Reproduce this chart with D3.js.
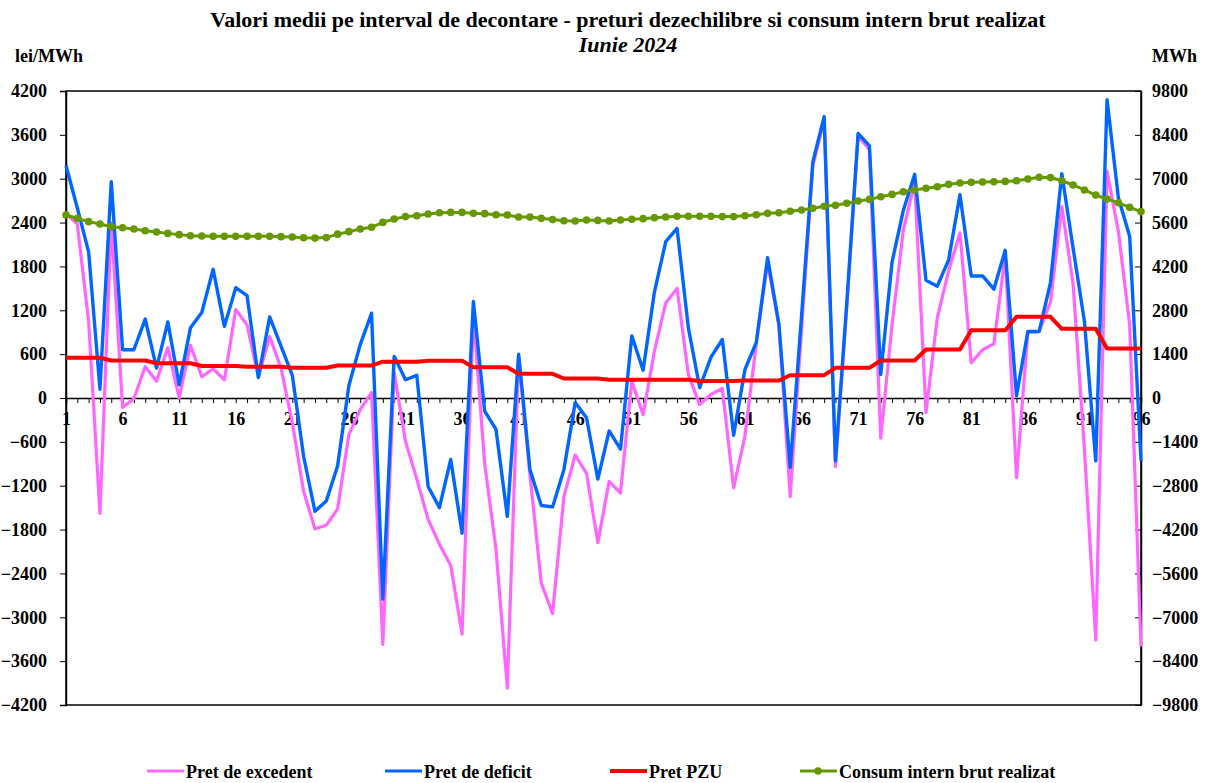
<!DOCTYPE html>
<html>
<head>
<meta charset="utf-8">
<script src="https://cdn.jsdelivr.net/npm/d3@7"></script>
<style>
    body { margin: 0; background: #fff; }
    svg text { font-family: "Liberation Serif", "Times New Roman", serif; font-weight: bold; fill: #000; }
</style>
</head>
<body>
<div class="svg-container"></div>
<script>
// intervale de decontare 1..96
const intervals = d3.range(1, 97);
const xTickLabels = [1, 6, 11, 16, 21, 26, 31, 36, 41, 46, 51, 56, 61, 66, 71, 76, 81, 86, 91, 96];
const leftTicks = [-4200, -3600, -3000, -2400, -1800, -1200, -600, 0, 600, 1200, 1800, 2400, 3000, 3600, 4200];
const rightTicks = [-9800, -8400, -7000, -5600, -4200, -2800, -1400, 0, 1400, 2800, 4200, 5600, 7000, 8400, 9800];

const pretExcedent = [
    2520, 2380, 1050, -1580, 2400, -130, -10, 430, 230, 690, 0, 720,
    290, 400, 250, 1210, 1000, 290, 840, 410, -340, -1280, -1790, -1740,
    -1520, -500, -160, 75, -3370, 350, -590, -1110, -1660, -2000, -2290, -3230,
    1150, -900, -2070, -3970, 560, -1050, -2530, -2950, -1350, -780, -1030, -1980,
    -1140, -1300, 230, -230, 640, 1300, 1500, 320, -90, 50, 130, -1230,
    -520, 740, 1850, 1000, -1350, 940, 3180, 3800, -940, 1250, 3580, 3400,
    -550, 1000, 2300, 2950, -200, 1100, 1740, 2260, 480, 660, 740, 1950,
    -1090, 900, 910, 1310, 2620, 1560, -700, -3310, 3100, 2280, 1000, -3400
];

const pretDeficit = [
    3180, 2600, 2000, 120, 2960, 660, 660, 1080, 410, 1040, 180, 960,
    1170, 1760, 980, 1510, 1400, 280, 1110, 710, 310, -800, -1550, -1410,
    -930, 170, 730, 1160, -2750, 570, 250, 310, -1210, -1500, -840, -1850,
    1320, -180, -430, -1620, 600, -980, -1470, -1490, -980, -60, -270, -1110,
    -450, -700, 850, 380, 1450, 2140, 2320, 960, 140, 560, 800, -510,
    390, 760, 1920, 1010, -950, 1120, 3230, 3850, -860, 1300, 3620, 3450,
    320, 1860, 2570, 3060, 1610, 1530, 1890, 2780, 1670, 1670, 1490, 2020,
    30, 910, 910, 1580, 3070, 2050, 1050, -860, 4080, 2740, 2210, -860
];

const pretPZU = [
    550, 550, 550, 550, 513, 513, 513, 513, 476, 476, 476, 476,
    437, 437, 437, 437, 428, 428, 428, 428, 413, 413, 413, 413,
    444, 444, 444, 444, 497, 497, 497, 497, 510, 510, 510, 510,
    422, 422, 422, 422, 331, 331, 331, 331, 267, 267, 267, 267,
    250, 250, 250, 250, 250, 250, 250, 250, 232, 232, 232, 232,
    240, 240, 240, 240, 312, 312, 312, 312, 413, 413, 413, 413,
    513, 513, 513, 513, 663, 663, 663, 663, 928, 928, 928, 928,
    1111, 1111, 1111, 1111, 946, 946, 946, 946, 677, 677, 677, 677
];

const consumIntern = [
    5840, 5735, 5630, 5555, 5470, 5435, 5395, 5340, 5300, 5255, 5215, 5180,
    5170, 5160, 5160, 5160, 5160, 5160, 5160, 5150, 5140, 5115, 5105, 5120,
    5230, 5310, 5395, 5450, 5605, 5715, 5790, 5820, 5875, 5915, 5925, 5925,
    5895, 5885, 5850, 5840, 5780, 5775, 5735, 5695, 5660, 5650, 5680, 5670,
    5650, 5680, 5705, 5725, 5755, 5780, 5800, 5800, 5800, 5800, 5790, 5790,
    5820, 5850, 5895, 5915, 5960, 6000, 6055, 6120, 6150, 6215, 6290, 6340,
    6425, 6500, 6585, 6640, 6695, 6745, 6820, 6865, 6885, 6895, 6905, 6915,
    6935, 6990, 7045, 7035, 6935, 6800, 6640, 6480, 6350, 6235, 6085, 5950
];

const seriesNames = ["Pret de excedent", "Pret de deficit", "Pret PZU", "Consum intern brut realizat"];
const seriesColors = ["#ff66ff", "#0066ff", "#ff0000", "#669900"];

const width = 1209;
const height = 783;
const plot = { left: 66, right: 1141, top: 91, bottom: 705 };
const labelFont = '18px';

let svg = d3.select('.svg-container').append('svg')
    .attr('width', width)
    .attr('height', height);

/**
 *  Scales
 */
const xScale = d3.scaleLinear().domain([1, 96]).range([plot.left, plot.right]);
const yLeft = d3.scaleLinear().domain([-4200, 4200]).range([plot.bottom, plot.top]);
const yRight = d3.scaleLinear().domain([-9800, 9800]).range([plot.bottom, plot.top]);

/**
 *  Titles
 */
svg.append('text')
    .attr('x', 628).attr('y', 27)
    .attr('text-anchor', 'middle')
    .style('font-size', '22px')
    .text('Valori medii pe interval de decontare - preturi dezechilibre si consum intern brut realizat');

svg.append('text')
    .attr('x', 628).attr('y', 52)
    .attr('text-anchor', 'middle')
    .style('font-size', '22px')
    .style('font-style', 'italic')
    .text('Iunie 2024');

svg.append('text').attr('x', 15).attr('y', 62).style('font-size', labelFont).text('lei/MWh');
svg.append('text').attr('x', 1152).attr('y', 62).style('font-size', labelFont).text('MWh');

/**
 *  Plot frame
 */
svg.append('rect')
    .attr('x', plot.left).attr('y', plot.top)
    .attr('width', plot.right - plot.left).attr('height', plot.bottom - plot.top)
    .attr('fill', 'none').attr('stroke', '#000').attr('stroke-width', 1.5);

/**
 *  Left axis
 */
const leftAxis = svg.append('g')
    .attr('transform', `translate(${plot.left}, 0)`)
    .call(d3.axisLeft(yLeft).tickValues(leftTicks).tickSize(6).tickPadding(13).tickFormat(d3.format('d')));
leftAxis.select('.domain').attr('stroke-width', 1.5);
leftAxis.selectAll('text').style('font-size', labelFont).style('font-family', '"Liberation Serif", serif');

/**
 *  Right axis (ticks inward)
 */
const rightAxis = svg.append('g')
    .attr('transform', `translate(${plot.right}, 0)`)
    .call(d3.axisRight(yRight).tickValues(rightTicks).tickSize(0).tickPadding(11).tickFormat(d3.format('d')));
rightAxis.select('.domain').attr('stroke-width', 1.5);
rightAxis.selectAll('text').style('font-size', labelFont).style('font-family', '"Liberation Serif", serif');
rightAxis.selectAll('.tick').append('line')
    .attr('x1', -6).attr('x2', 0).attr('stroke', '#000');

/**
 *  X axis at zero
 */
const xAxis = svg.append('g')
    .attr('transform', `translate(0, ${yLeft(0)})`)
    .call(d3.axisBottom(xScale).tickValues(intervals).tickSize(5)
        .tickFormat((d) => xTickLabels.includes(d) ? d : ''));
xAxis.select('.domain').attr('stroke-width', 1.5);
xAxis.selectAll('text')
    .attr('y', 14)
    .style('font-size', labelFont)
    .style('font-family', '"Liberation Serif", serif');

/**
 *  Lines
 */
const lineLeft = d3.line().x((d, i) => xScale(intervals[i])).y((d) => yLeft(d));
const lineRight = d3.line().x((d, i) => xScale(intervals[i])).y((d) => yRight(d));

svg.append('path').datum(pretExcedent)
    .attr('d', lineLeft).attr('fill', 'none')
    .attr('stroke', seriesColors[0]).attr('stroke-width', 3.2).attr('stroke-linejoin', 'round');

svg.append('path').datum(pretDeficit)
    .attr('d', lineLeft).attr('fill', 'none')
    .attr('stroke', seriesColors[1]).attr('stroke-width', 3.4).attr('stroke-linejoin', 'round');

svg.append('path').datum(pretPZU)
    .attr('d', lineLeft).attr('fill', 'none')
    .attr('stroke', seriesColors[2]).attr('stroke-width', 4).attr('stroke-linejoin', 'round');

svg.append('path').datum(consumIntern)
    .attr('d', lineRight).attr('fill', 'none')
    .attr('stroke', seriesColors[3]).attr('stroke-width', 3);

svg.selectAll('.dot')
    .data(consumIntern)
    .enter()
    .append('circle')
    .attr('class', 'dot')
    .attr('cx', (d, i) => xScale(intervals[i]))
    .attr('cy', (d) => yRight(d))
    .attr('r', 3.8)
    .attr('fill', seriesColors[3]);

/**
 *  Legend
 */
const legendX = [147, 385, 610, 800];
const legend = svg.selectAll('.legend')
    .data(seriesNames)
    .enter()
    .append('g')
    .attr('class', 'legend')
    .attr('transform', (d, i) => `translate(${legendX[i]}, 771)`);

legend.append('line')
    .attr('x1', 0).attr('x2', 37).attr('y1', 0).attr('y2', 0)
    .attr('stroke', (d, i) => seriesColors[i])
    .attr('stroke-width', (d, i) => i === 2 ? 4 : 3.2);

legend.filter((d, i) => i === 3).append('circle')
    .attr('cx', 18).attr('cy', 0).attr('r', 3.8)
    .attr('fill', seriesColors[3]);

legend.append('text')
    .attr('x', 39).attr('y', 6.5)
    .style('font-size', labelFont)
    .text((d) => d);
</script>
</body>
</html>
